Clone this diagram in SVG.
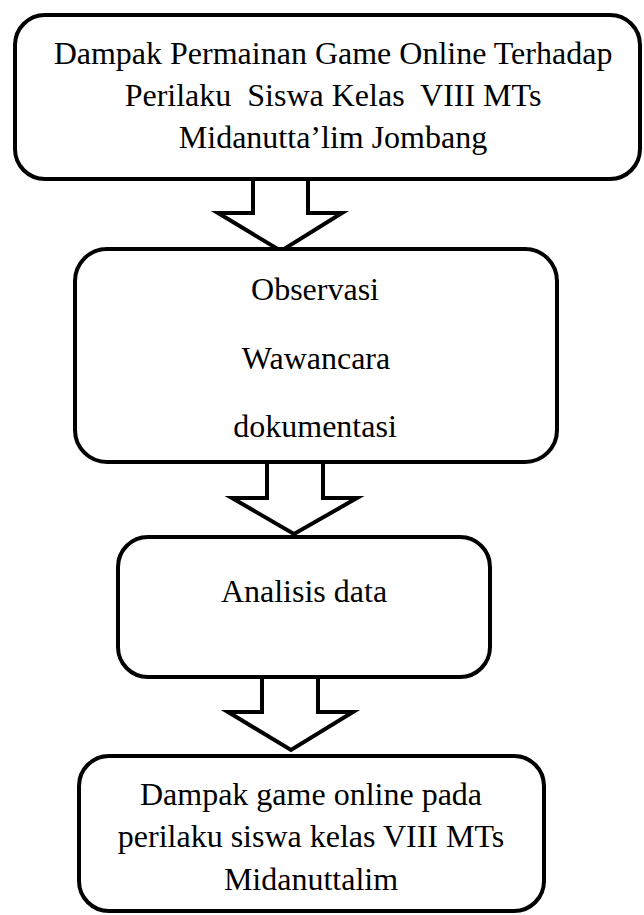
<svg xmlns="http://www.w3.org/2000/svg" width="644" height="915" viewBox="0 0 644 915">
<style>
.box{fill:#ffffff;stroke:#000000;stroke-width:4}
.arrow{fill:#ffffff;stroke:#000000;stroke-width:4;stroke-linejoin:miter}
.t{font-family:"Liberation Serif","Times New Roman",serif;font-size:32px;fill:#000000;text-anchor:middle;white-space:pre}
</style>
<rect x="0" y="0" width="644" height="915" fill="#ffffff"/>
<g id="connectors">
<polygon class="arrow" points="253,179 253,213 218,213 281,251 342,213 308,213 308,179"/>
<polygon class="arrow" points="267,462 267,498 232,498 294,534 357,498 323,498 323,462"/>
<polygon class="arrow" points="262,677 262,712 228,712 291,750 353,712 318,712 318,677"/>
</g>
<g id="node1">
<rect class="box" x="15" y="15" width="625" height="164" rx="30" ry="30"/>
<text class="t" x="333" y="64">Dampak Permainan Game Online Terhadap</text>
<text class="t" x="333" y="106" xml:space="preserve">Perilaku  Siswa Kelas  VIII MTs</text>
<text class="t" x="333" y="148">Midanutta’lim Jombang</text>
</g>
<g id="node2">
<rect class="box" x="75" y="249" width="482" height="213" rx="32" ry="32"/>
<text class="t" x="315" y="300">Observasi</text>
<text class="t" x="316" y="369">Wawancara</text>
<text class="t" x="315" y="437">dokumentasi</text>
</g>
<g id="node3">
<rect class="box" x="118" y="537" width="372" height="140" rx="30" ry="30"/>
<text class="t" x="304" y="602">Analisis data</text>
</g>
<g id="node4">
<rect class="box" x="79" y="756" width="465" height="155" rx="30" ry="30"/>
<text class="t" x="311" y="805">Dampak game online pada</text>
<text class="t" x="311" y="847">perilaku siswa kelas VIII MTs</text>
<text class="t" x="311" y="890">Midanuttalim</text>
</g>
</svg>
